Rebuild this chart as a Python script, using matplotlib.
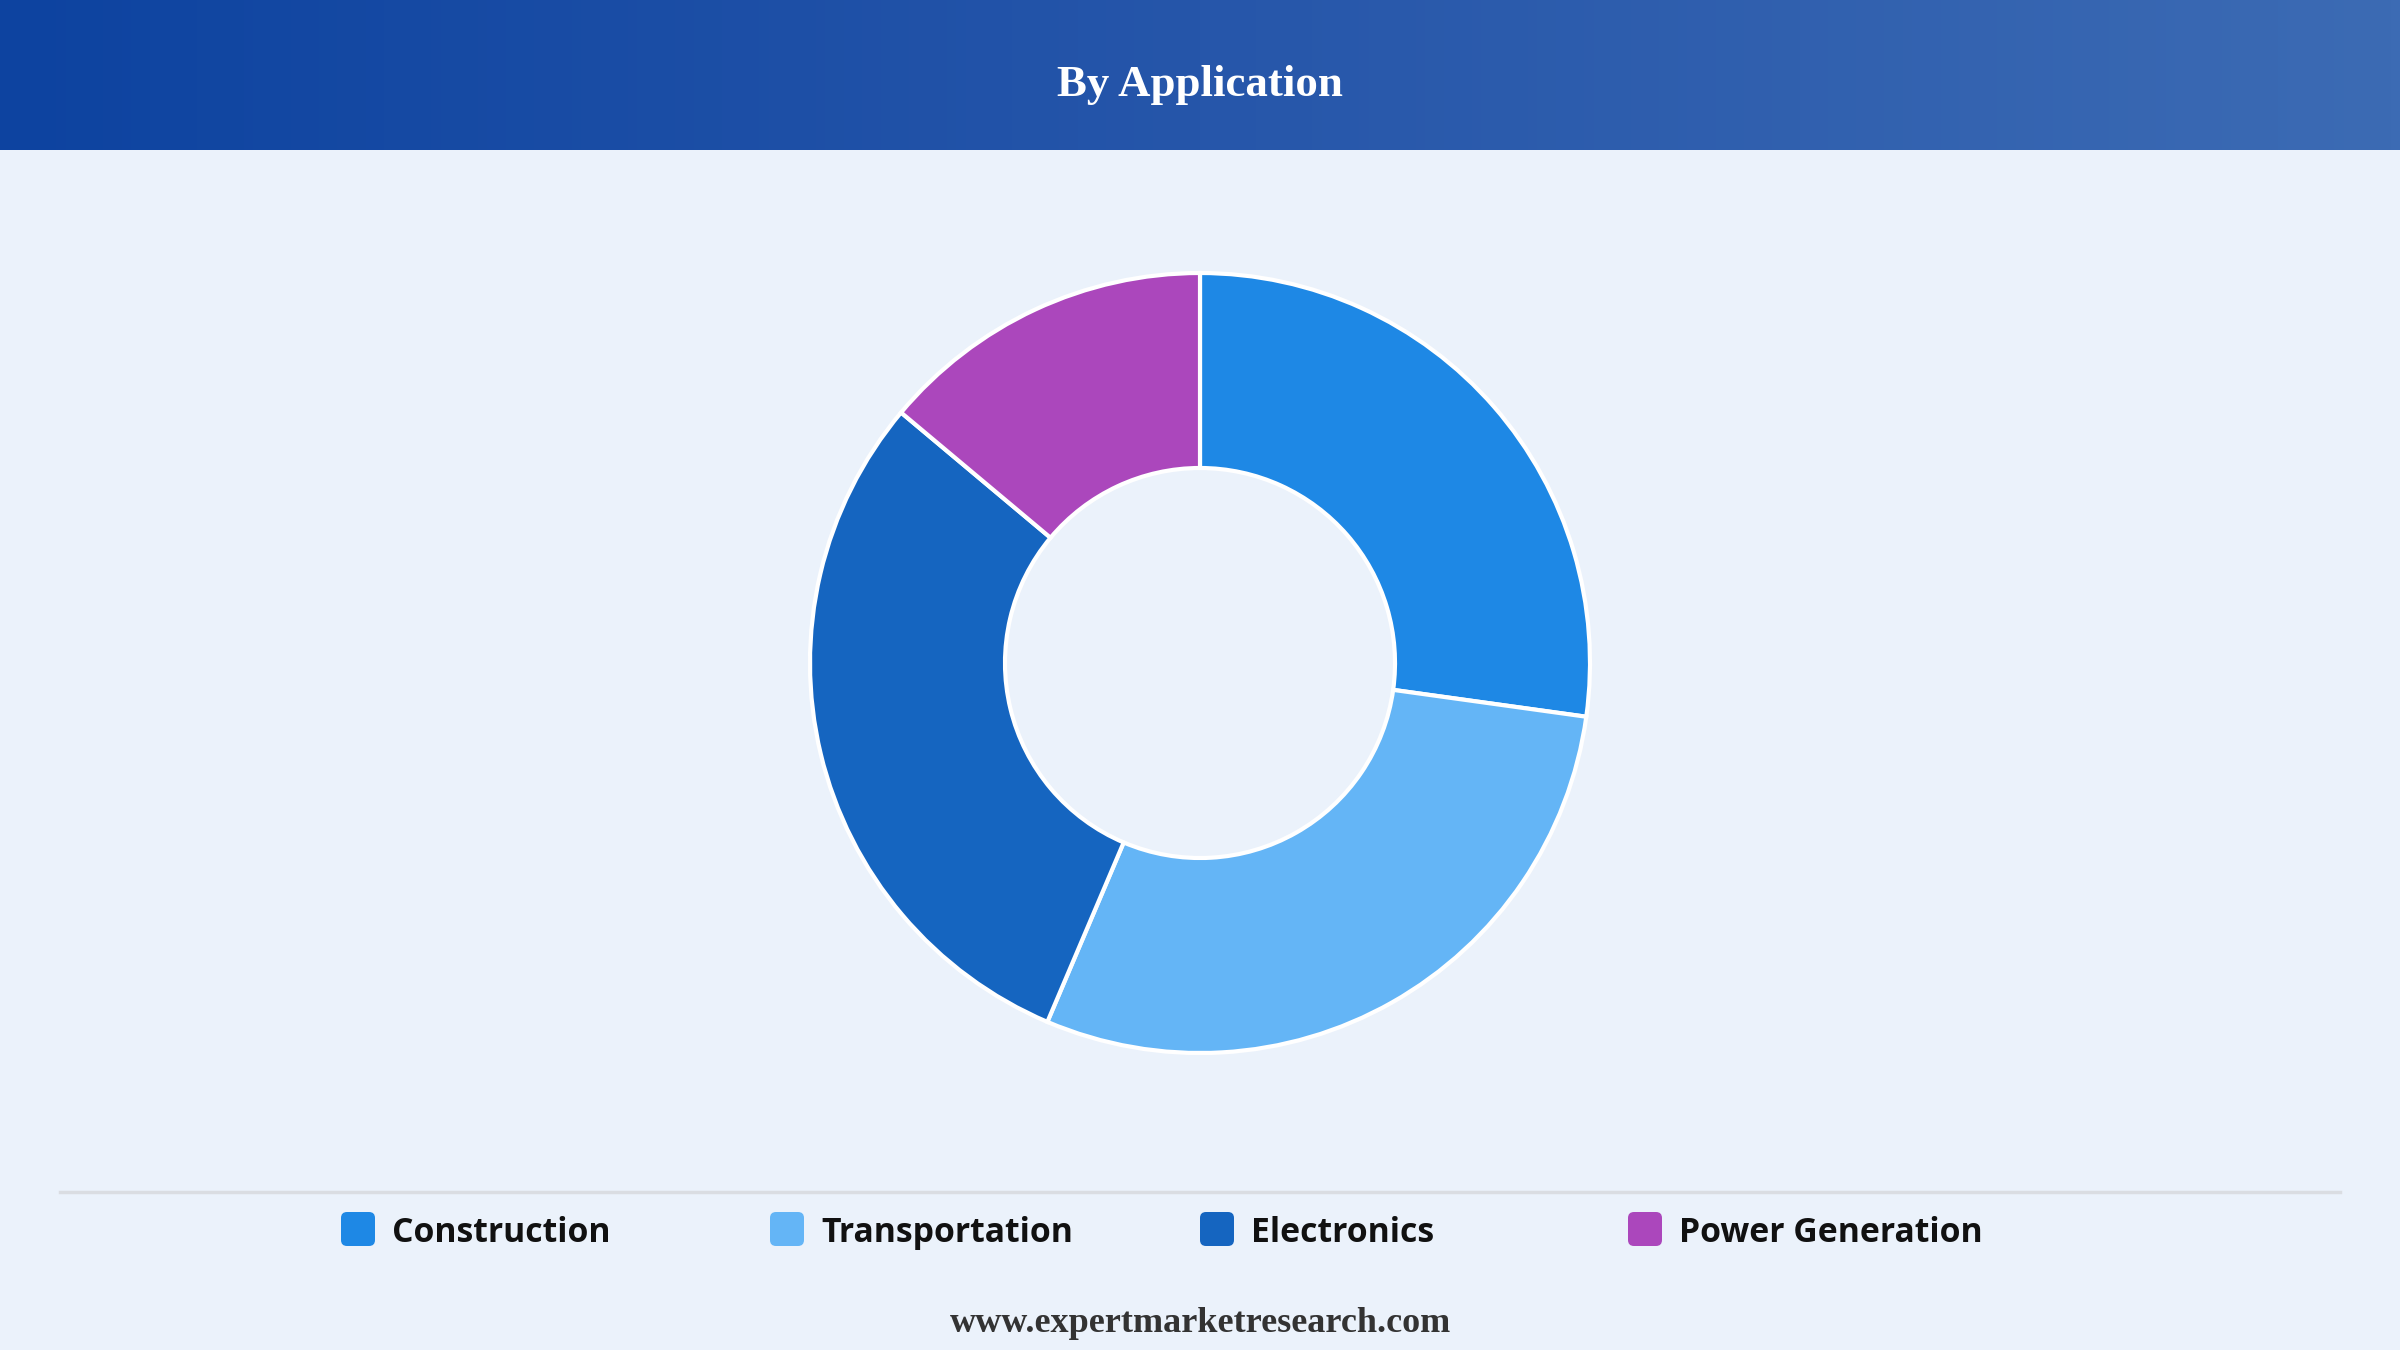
import numpy as np
import matplotlib
matplotlib.use("Agg")
import matplotlib.pyplot as plt
from matplotlib.patches import FancyBboxPatch
from matplotlib.colors import LinearSegmentedColormap

categories = ["Construction", "Transportation", "Electronics", "Power Generation"]
values = [27.2, 29.2, 29.7, 13.9]
colors = ["#1E88E5", "#64B5F6", "#1565C0", "#AB47BC"]
title = "By Application"
footer = "www.expertmarketresearch.com"

W, H = 2400, 1350
fig = plt.figure(figsize=(24, 13.5), dpi=100)
fig.patch.set_facecolor("#EBF2FB")
ax = fig.add_axes([0, 0, 1, 1])
ax.set_facecolor("#EBF2FB")

def Y(py):
    return H - py

# header gradient
cmap = LinearSegmentedColormap.from_list("hdr", ["#0D43A0", "#2656AA", "#3C6BB4"])
grad = np.linspace(0, 1, 256).reshape(1, -1)
ax.imshow(grad, extent=[0, W, Y(150), Y(0)], cmap=cmap, aspect="auto", zorder=1)
ax.text(W / 2, Y(85), title, ha="center", va="center", color="white",
        fontsize=32.3, fontweight="bold", family="Liberation Serif", zorder=3)

# donut
ax.pie(values, colors=colors, startangle=90, counterclock=False,
       center=(1200, Y(663)), radius=390, frame=True,
       wedgeprops=dict(width=195, edgecolor="white", linewidth=3))

# separator
ax.plot([60, 2340], [Y(1192), Y(1192)], color="#DADDE2", lw=2.5, zorder=2)

# legend
xs = [341, 770, 1200, 1628]
for x, c, lab in zip(xs, colors, categories):
    box = FancyBboxPatch((x, Y(1229) - 17), 34, 34,
                         boxstyle="round,pad=0,rounding_size=6",
                         facecolor=c, edgecolor="none", zorder=3)
    ax.add_patch(box)
    ax.text(x + 51, Y(1233), lab, ha="left", va="center", color="#111111",
            fontsize=24.3, fontweight="bold", family="Open Sans", zorder=3)

ax.text(W / 2, Y(1323), footer, ha="center", va="center", color="#333333",
        fontsize=26, fontweight="bold", family="Liberation Serif", zorder=3)

ax.set_xlim(0, W)
ax.set_ylim(0, H)
ax.set_aspect("auto")
ax.axis("off")
fig.savefig("out.png", dpi=100, facecolor=fig.get_facecolor())
